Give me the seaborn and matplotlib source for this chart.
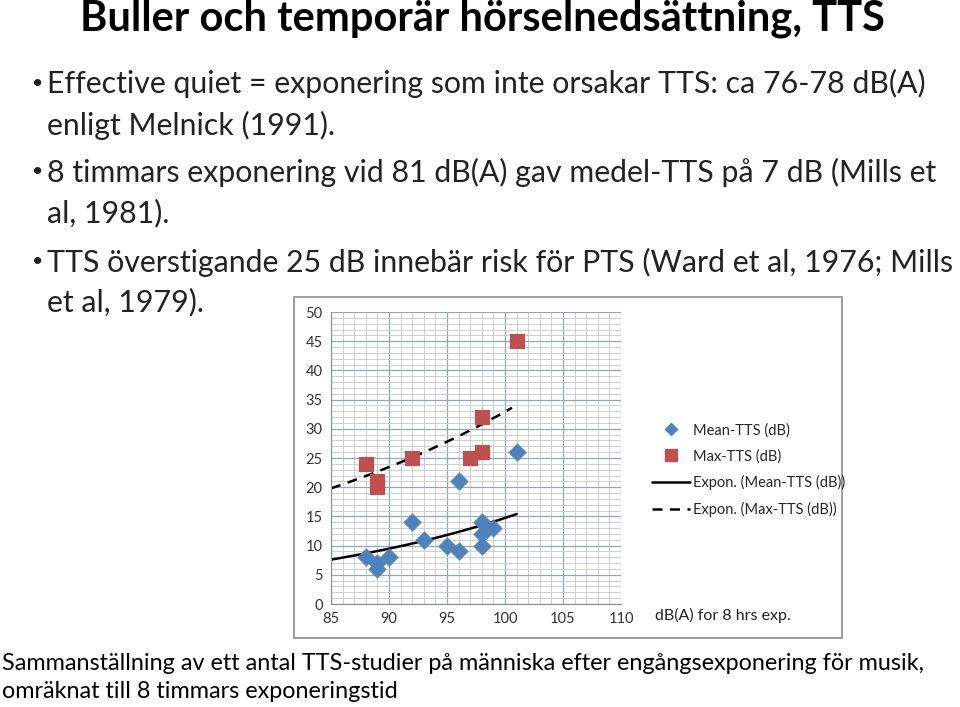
import numpy as np
import pandas as pd
import seaborn as sns
import matplotlib.pyplot as plt
from matplotlib.patches import Rectangle
from matplotlib.lines import Line2D
from matplotlib.ticker import MultipleLocator

# --- data ---
mean_x = [88, 89, 89, 90, 92, 93, 95, 96, 96, 98, 98, 98, 99, 101]
mean_y = [8, 7, 6, 8, 14, 11, 10, 21, 9, 14, 12, 10, 13, 26]
max_x = [88, 89, 89, 92, 97, 98, 98, 101]
max_y = [24, 21, 20, 25, 25, 32, 26, 45]

# trend line end points (Excel "Expon." trendlines)
trend_mean_x = [85, 101]
trend_mean_y = [7.6, 15.4]
trend_max_x = [85, 100.6]
trend_max_y = [19.8, 33.6]

title = "Buller och temporär hörselnedsättning, TTS"
bullets = [
    ["Effective quiet = exponering som inte orsakar TTS: ca 76-78 dB(A)",
     "enligt Melnick (1991)."],
    ["8 timmars exponering vid 81 dB(A) gav medel-TTS på 7 dB (Mills et",
     "al, 1981)."],
    ["TTS överstigande 25 dB innebär risk för PTS (Ward et al, 1976; Mills",
     "et al, 1979)."],
]
caption = ["Sammanställning av ett antal TTS-studier på människa efter engångsexponering för musik,",
           "omräknat till 8 timmars exponeringstid"]

df_mean = pd.DataFrame({"x": mean_x, "y": mean_y})
df_max = pd.DataFrame({"x": max_x, "y": max_y})


# exponential curve y = a*exp(b*x) through the two read end points
def expon_curve(xe, ye):
    b = np.log(ye[1] / ye[0]) / (xe[1] - xe[0])
    a = ye[0] / np.exp(b * xe[0])
    xs = np.linspace(xe[0], xe[1], 100)
    return pd.DataFrame({"x": xs, "y": a * np.exp(b * xs)})


fit_mean = expon_curve(trend_mean_x, trend_mean_y)
fit_max = expon_curve(trend_max_x, trend_max_y)

sns.set_style("white")
plt.rcParams['font.family'] = ['Lato', 'DejaVu Sans']

fig = plt.figure(figsize=(9.6, 7.07), dpi=100)

# slide text
fig.text(80 / 960, 1 - 19 / 707, title, fontsize=30, fontweight='bold',
         va='center', ha='left', color='black')
rows = [(83, 125), (172, 213), (262, 302)]
for (y1, y2), lines in zip(rows, bullets):
    fig.text(38 / 960, 1 - y1 / 707, "•", fontsize=14, va='center', ha='center', color='#222222')
    fig.text(47 / 960, 1 - y1 / 707, lines[0], fontsize=21.8, va='center', ha='left', color='#222222')
    fig.text(47 / 960, 1 - y2 / 707, lines[1], fontsize=21.8, va='center', ha='left', color='#222222')
fig.text(2 / 960, 1 - 663 / 707, caption[0], fontsize=16.8, va='center', ha='left', color='black')
fig.text(2 / 960, 1 - 692 / 707, caption[1], fontsize=16.8, va='center', ha='left', color='black')

# chart frame
fig.patches.append(Rectangle((294 / 960, 1 - 638 / 707), 548 / 960, 341 / 707,
                             transform=fig.transFigure, fill=False,
                             edgecolor='#8c8c8c', linewidth=1.2))

ax = fig.add_axes([331 / 960, 1 - 604 / 707, 290 / 960, 292 / 707])
ax.set_xlim(85, 110)
ax.set_ylim(0, 50)
ax.xaxis.set_major_locator(MultipleLocator(5))
ax.yaxis.set_major_locator(MultipleLocator(5))
ax.xaxis.set_minor_locator(MultipleLocator(1))
ax.yaxis.set_minor_locator(MultipleLocator(1))
ax.grid(which='minor', color='#c8c8c8', linewidth=0.6)
ax.grid(which='major', color='#8fa7c4', linewidth=0.9)
ax.set_axisbelow(True)
for s in ['top', 'right']:
    ax.spines[s].set_visible(False)
ax.spines['left'].set_color('#8c8c8c')
ax.spines['bottom'].set_color('#8c8c8c')
ax.tick_params(which='both', length=0, labelsize=10.5, colors='#333333', pad=6)

sns.lineplot(data=fit_mean, x="x", y="y", ax=ax, color='black', linewidth=1.8)
sns.lineplot(data=fit_max, x="x", y="y", ax=ax, color='black', linewidth=1.8,
             linestyle=(0, (4, 3)))
sns.scatterplot(data=df_mean, x="x", y="y", ax=ax, marker='D', s=75,
                color='#4f81bd', edgecolor='#4f81bd', zorder=3)
sns.scatterplot(data=df_max, x="x", y="y", ax=ax, marker='s', s=110,
                color='#c0504d', edgecolor='#c0504d', zorder=3)
ax.set_xlabel("")
ax.set_ylabel("")

handles = [
    Line2D([], [], marker='D', linestyle='none', color='#4f81bd', markersize=6),
    Line2D([], [], marker='s', linestyle='none', color='#c0504d', markersize=8),
    Line2D([], [], color='black', linewidth=1.8),
    Line2D([], [], color='black', linewidth=1.8, linestyle=(0, (4, 3))),
]
labels = ["Mean-TTS (dB)", "Max-TTS (dB)", "Expon. (Mean-TTS (dB))", "Expon. (Max-TTS (dB))"]
fig.legend(handles, labels, loc='upper left', bbox_to_anchor=(652 / 960, 1 - 423 / 707),
           frameon=False, fontsize=10.5, handlelength=2.6, handletextpad=0.2,
           labelspacing=0.8, borderaxespad=0, borderpad=0)

fig.text(655 / 960, 1 - 615 / 707, "dB(A) for 8 hrs exp.", fontsize=11.5,
         va='center', ha='left', color='#222222')

fig.savefig("out.png", dpi=100)
